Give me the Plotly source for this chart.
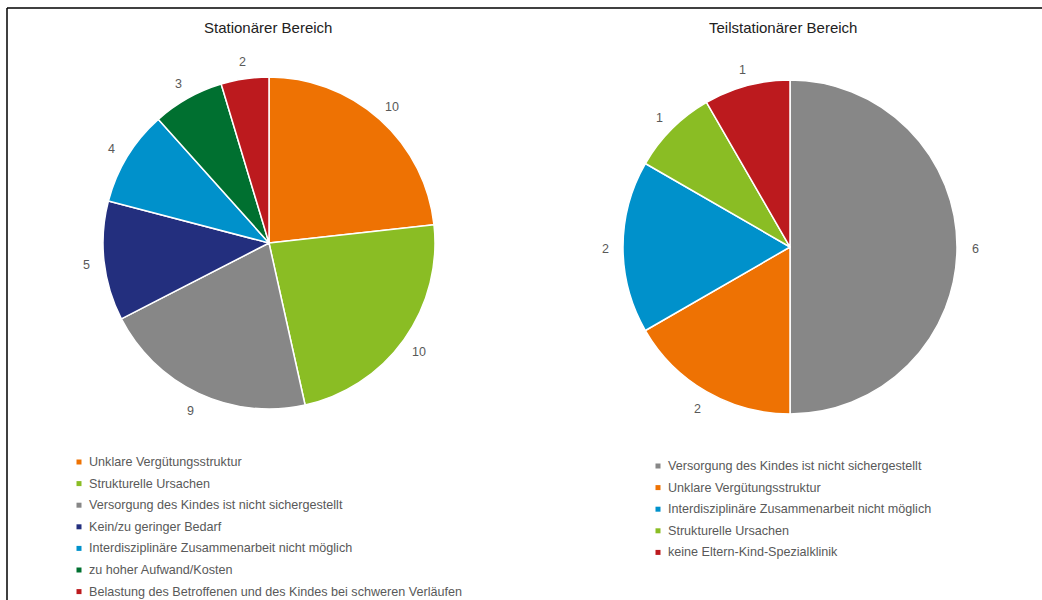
import math
import plotly.graph_objects as go

W, H = 1042, 600

# ---- data ----
stat_labels = [
    "Unklare Vergütungsstruktur",
    "Strukturelle Ursachen",
    "Versorgung des Kindes ist nicht sichergestellt",
    "Kein/zu geringer Bedarf",
    "Interdisziplinäre Zusammenarbeit nicht möglich",
    "zu hoher Aufwand/Kosten",
    "Belastung des Betroffenen und des Kindes bei schweren Verläufen",
]
stat_values = [10, 10, 9, 5, 4, 3, 2]
stat_colors = ["#EE7203", "#8ABD24", "#878787", "#232F7E", "#0091CB", "#007030", "#BC1A1E"]

teil_labels = [
    "Versorgung des Kindes ist nicht sichergestellt",
    "Unklare Vergütungsstruktur",
    "Interdisziplinäre Zusammenarbeit nicht möglich",
    "Strukturelle Ursachen",
    "keine Eltern-Kind-Spezialklinik",
]
teil_values = [6, 2, 2, 1, 1]
teil_colors = ["#878787", "#EE7203", "#0091CB", "#8ABD24", "#BC1A1E"]

titles = ["Stationärer Bereich", "Teilstationärer Bereich"]

FONT = "Liberation Sans, Arial, sans-serif"
TXT = "#595959"

# pie geometry in pixels (center x, center y, radius) and legend placement
pies = [
    dict(cx=269, cy=243, r=166, labels=stat_labels, values=stat_values, colors=stat_colors,
         title=titles[0], tx=268, lx=79, ly=462),
    dict(cx=790, cy=247, r=167, labels=teil_labels, values=teil_values, colors=teil_colors,
         title=titles[1], tx=783, lx=658, ly=466),
]

LEG_STEP = 21.6

fig = go.Figure()
annotations = []
shapes = [
    dict(type="line", xref="paper", yref="paper", x0=7 / W, x1=1, y0=1 - 8 / H, y1=1 - 8 / H,
         line=dict(color="black", width=1.5)),
    dict(type="line", xref="paper", yref="paper", x0=7 / W, x1=7 / W, y0=0, y1=1 - 8 / H,
         line=dict(color="black", width=1.5)),
]

for p in pies:
    rd = p["r"]
    dom_x = [(p["cx"] - rd) / W, (p["cx"] + rd) / W]
    dom_y = [1 - (p["cy"] + rd) / H, 1 - (p["cy"] - rd) / H]
    fig.add_trace(go.Pie(
        labels=p["labels"], values=p["values"], sort=False, direction="clockwise",
        rotation=0, marker=dict(colors=p["colors"], line=dict(color="white", width=1.5)),
        textinfo="none", hoverinfo="label+value", showlegend=False,
        domain=dict(x=dom_x, y=dom_y),
    ))
    # value labels outside, placed along each slice's mid-angle
    total = sum(p["values"])
    cum = 0
    for v in p["values"]:
        mid = (cum + v / 2) / total * 2 * math.pi
        cum += v
        rr = p["r"] + 18
        x = p["cx"] + rr * math.sin(mid)
        y = p["cy"] - rr * math.cos(mid) + 1.5
        annotations.append(dict(
            x=x / W, y=1 - y / H, xref="paper", yref="paper", text=str(v),
            showarrow=False, font=dict(family=FONT, size=12.5, color=TXT),
            xanchor="center", yanchor="middle",
        ))
    annotations.append(dict(
        x=p["tx"] / W, y=1 - 27 / H, xref="paper", yref="paper", text=p["title"],
        showarrow=False, font=dict(family=FONT, size=15, color="#222222"),
        xanchor="center", yanchor="middle",
    ))
    # legend entries: small square + label
    for i, (lab, col) in enumerate(zip(p["labels"], p["colors"])):
        yc = p["ly"] + i * LEG_STEP
        shapes.append(dict(
            type="rect", xref="paper", yref="paper",
            x0=(p["lx"] - 2.5) / W, x1=(p["lx"] + 2.5) / W,
            y0=1 - (yc + 2.5) / H, y1=1 - (yc - 2.5) / H,
            fillcolor=col, line=dict(width=0),
        ))
        annotations.append(dict(
            x=(p["lx"] + 8) / W, y=1 - yc / H, xref="paper", yref="paper", text=lab,
            showarrow=False, font=dict(family=FONT, size=12.6, color=TXT),
            xanchor="left", yanchor="middle",
        ))

fig.update_layout(
    width=W, height=H, margin=dict(l=0, r=0, t=0, b=0),
    paper_bgcolor="white", plot_bgcolor="white",
    showlegend=False,
    annotations=annotations,
    shapes=shapes,
)

fig.write_html(
    "out.html",
    config={"displayModeBar": False},
    post_script="document.body.style.margin='0';document.body.style.overflow='hidden';",
)
